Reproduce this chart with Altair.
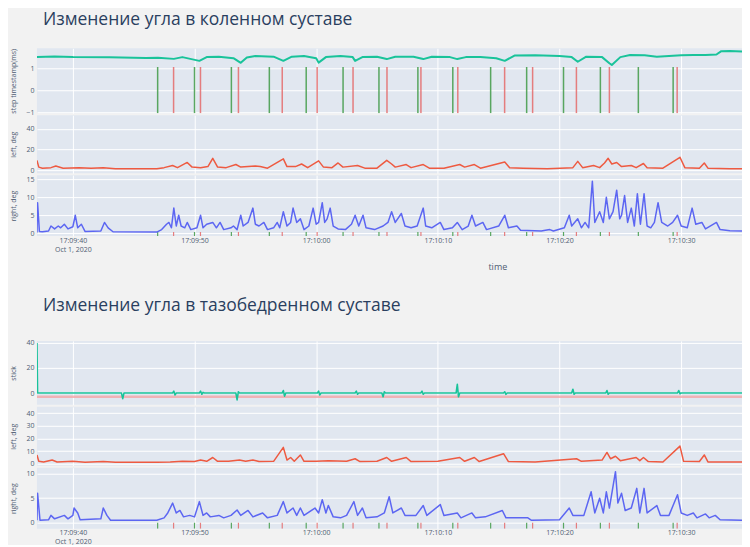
import altair as alt
import pandas as pd

# ---------------- data (time = seconds after 17:09:00, Oct 1, 2020) ----------------
X_MIN, X_MAX = 37.05, 95.0
X_TICKS = [40, 50, 60, 70, 80, 90]
X_LABELS = ["17:09:40", "17:09:50", "17:10:00", "17:10:10", "17:10:20", "17:10:30"]
DATE_LABEL = "Oct 1, 2020"

TITLE_KNEE = "Изменение угла в коленном суставе"
TITLE_HIP = "Изменение угла в тазобедренном суставе"

# step events (green = toe-off, red = heel-strike)
EVENT_GREEN = [46.97, 50.0, 53.03, 56.15, 59.18, 62.21, 65.16, 68.36, 71.23, 74.34,
               77.3, 80.33, 83.36, 86.48, 89.34]
EVENT_RED = [48.28, 50.49, 53.61, 57.21, 60.08, 63.03, 65.82, 68.61, 71.64, 75.49,
             77.79, 81.39, 84.1, 89.67]

# knee: timeline panel (teal)
KNEE_TIMELINE = [
    (37.05, 1.50), (38.5, 1.53), (40, 1.50), (43, 1.49), (46, 1.46), (47, 1.47),
    (48.3, 1.42), (49, 1.50), (50.4, 1.33), (51, 1.50), (52, 1.52), (53.2, 1.45),
    (53.8, 1.24), (54.3, 1.48), (55, 1.55), (56.5, 1.52), (57.3, 1.33), (58, 1.52),
    (59, 1.55), (60, 1.45), (60.2, 1.25), (60.8, 1.50), (62, 1.55), (63, 1.50),
    (63.2, 1.33), (63.8, 1.50), (65, 1.52), (65.8, 1.41), (66.5, 1.52), (68, 1.52),
    (68.8, 1.41), (69.5, 1.52), (71, 1.50), (71.6, 1.41), (72.3, 1.50), (73.5, 1.50),
    (74.8, 1.45), (75.5, 1.33), (76.3, 1.57), (78, 1.58), (80, 1.55), (81, 1.50),
    (81.5, 1.29), (82.2, 1.52), (83.5, 1.50), (84.1, 1.22), (84.3, 1.14), (85, 1.50),
    (85.8, 1.60), (87, 1.58), (88, 1.52), (89, 1.55), (90, 1.58), (91, 1.60),
    (92, 1.60), (92.9, 1.62), (93.3, 1.77), (94, 1.78), (95.0, 1.76),
]

# knee: left, deg (red)
KNEE_LEFT = [
    (37.05, 9.5), (37.2, 3), (37.5, 2), (38.2, 2.5), (38.6, 4), (39.2, 2), (40.5, 2.5),
    (41.5, 1.8), (42.5, 2.5), (43.5, 1.5), (46.9, 1.5), (47.5, 2.5), (48.2, 4.5),
    (48.6, 2.5), (49.4, 7.5), (49.8, 3), (50.5, 2.5), (51.1, 3.5), (51.5, 11.5),
    (51.9, 3), (52.6, 2.5), (53.4, 5.5), (53.8, 3), (55.0, 4), (55.4, 3.5), (56.0, 2),
    (57.3, 11), (57.6, 3.5), (58.3, 3.5), (58.8, 6), (59.3, 2.5), (60.2, 9), (60.6, 3),
    (61.3, 2.5), (61.8, 7), (62.2, 3), (63.4, 4.5), (64.0, 2), (65, 2), (65.8, 9.5),
    (66.2, 6), (66.5, 3), (67.4, 5.5), (67.8, 2.5), (68.8, 5.5), (69.3, 2), (70.5, 2),
    (71.8, 5.5), (72.2, 3), (73.0, 5.5), (73.5, 2), (75.5, 8), (75.9, 2.5), (77, 2),
    (79, 1.5), (81.1, 2.5), (81.5, 8.5), (81.9, 2.5), (82.8, 4.5), (83.3, 2.5),
    (83.7, 7), (84.0, 11.5), (84.3, 6), (84.7, 7.5), (85.1, 3.5), (85.9, 4.5),
    (86.3, 2.5), (86.9, 6.5), (87.2, 2.5), (88.5, 2), (89.9, 12.5), (90.3, 2.5),
    (91.5, 2), (91.9, 7), (92.2, 2), (94, 1.5), (95.0, 1.5),
]

# knee: right, deg (blue)
KNEE_RIGHT = [
    (37.05, 0.2), (37.1, 8.5), (37.25, 0.5), (37.5, 0.4), (38.0, 0.6), (38.2, 2),
    (38.5, 1.2), (38.8, 2), (39.0, 1.5), (39.3, 2.5), (39.6, 1.2), (40.0, 1.8),
    (40.2, 5), (40.4, 1.5), (40.7, 2.5), (41.0, 0.5), (42.3, 0.6), (42.6, 3),
    (42.9, 1.5), (43.3, 0.4), (46.9, 0.3), (47.3, 1), (47.7, 2.5), (47.9, 3),
    (48.1, 1.5), (48.3, 7), (48.5, 2), (48.7, 5), (48.9, 2), (49.2, 1.5), (49.4, 3),
    (49.7, 1.0), (50.2, 1.5), (50.5, 5), (50.7, 1.5), (51.0, 2.5), (51.5, 3),
    (51.8, 1.5), (52.1, 3), (52.4, 1.0), (53.0, 1.5), (53.2, 2), (53.5, 1.0),
    (53.8, 5), (54.0, 2), (54.4, 3), (54.8, 7), (55.0, 2.5), (55.3, 2), (55.7, 3),
    (56.0, 1.0), (56.5, 1.5), (56.8, 3), (57.0, 1.5), (57.3, 6), (57.6, 2),
    (57.9, 3), (58.1, 7), (58.4, 3), (58.7, 4), (59.0, 1.0), (59.4, 2), (59.75, 7),
    (60.0, 2.5), (60.2, 3), (60.5, 8.5), (60.7, 3), (60.9, 4), (61.15, 7), (61.4, 2),
    (61.8, 1.2), (62.4, 1.0), (62.9, 2.5), (63.2, 5), (63.5, 2), (63.85, 5),
    (64.1, 1.5), (64.8, 1.0), (65.5, 2), (65.9, 3), (66.2, 6), (66.5, 3), (67.0, 5.5),
    (67.3, 2), (67.8, 1.5), (68.3, 2), (68.8, 7), (69.0, 2), (69.5, 1.5), (70.2, 3),
    (70.5, 1.0), (71.2, 1.5), (71.6, 3), (72.0, 1.0), (72.5, 2), (72.8, 5), (73.1, 2),
    (73.7, 3), (74.0, 1.0), (75.0, 2), (75.5, 5), (75.8, 1.5), (76.5, 2), (76.8, 0.8),
    (78.5, 0.6), (79.2, 1), (79.5, 0.6), (80.4, 1.5), (80.8, 5), (81.0, 2), (81.5, 4),
    (81.8, 1.5), (82.1, 3), (82.4, 1.5), (82.7, 14.5), (82.9, 3), (83.3, 6),
    (83.6, 3), (83.85, 10), (84.1, 4), (84.4, 6), (84.7, 12), (84.95, 4), (85.1, 5),
    (85.35, 10.5), (85.6, 3), (85.9, 7), (86.15, 2), (86.4, 11), (86.65, 2.5),
    (86.95, 11), (87.2, 2), (87.5, 1.5), (87.8, 3), (88.1, 8.5), (88.4, 3), (88.9, 2),
    (89.3, 3), (89.7, 5), (90.0, 2), (90.5, 1.5), (90.9, 7), (91.2, 2.5), (91.7, 3),
    (92.0, 1.2), (92.9, 3), (93.2, 1), (94, 0.7), (95.0, 0.6),
]

# hip: stick (teal)
HIP_STICK = [
    (37.05, 40), (37.1, 0), (44.0, 0), (44.1, -4.5), (44.2, 0), (48.2, 0), (48.3, 1.5),
    (48.4, -1.5), (48.5, 0), (50.4, 0), (50.5, 1.5), (50.6, -1), (50.7, 0.5),
    (50.8, 0), (53.4, 0), (53.5, -5.5), (53.6, 1), (53.7, 0), (57.2, 0), (57.3, 2),
    (57.4, -2.5), (57.5, 0), (60.1, 0), (60.2, 1.5), (60.3, -1.5), (60.4, 0),
    (63.2, 0), (63.3, 1.5), (63.4, -1), (63.5, 0), (65.4, 0), (65.5, -3), (65.6, 1),
    (65.7, 0), (68.6, 0), (68.7, 1.5), (68.8, -1), (68.9, 0), (71.5, 0), (71.6, 7),
    (71.7, -3), (71.8, 0), (75.4, 0), (75.5, 1), (75.6, -1), (75.7, 0), (81.0, 0),
    (81.1, 3), (81.2, -1), (81.3, 0), (83.8, 0), (83.9, 2), (84.0, -1), (84.1, 0),
    (89.7, 0), (89.8, 2), (89.9, -0.5), (90.0, 0), (95.0, 0),
]
HIP_STICK_BAND = [(37.05, -3), (95.0, -3)]

# hip: left, deg (red)
HIP_LEFT = [
    (37.05, 7), (37.2, 2), (37.6, 1.5), (38.3, 3), (38.7, 1.5), (40, 2), (41, 1.2),
    (42.5, 1.8), (43.5, 1.2), (46.9, 1.2), (48, 1.5), (49.0, 2), (50.0, 1.8),
    (50.5, 3), (51.0, 2), (51.5, 5), (51.9, 2), (52.8, 2), (53.7, 3), (54.2, 2),
    (54.8, 3), (55.3, 1.8), (56.5, 2), (57.3, 13), (57.6, 3), (57.9, 5), (58.2, 2),
    (58.7, 7), (59.0, 2), (60, 2), (61, 2.5), (62.5, 2), (63.2, 4), (63.6, 1.8),
    (65, 2), (65.8, 5), (66.2, 2), (67.4, 5), (67.8, 1.8), (70, 2), (71.8, 5),
    (72.2, 2), (73.0, 5), (73.4, 1.8), (75.4, 8), (75.8, 1.8), (78, 1.5), (81.4, 4),
    (81.8, 2), (83.5, 3), (83.9, 9), (84.2, 4), (84.6, 6), (85.0, 2.5), (86.3, 5),
    (86.6, 2.5), (86.9, 5), (87.3, 1.8), (88.5, 1.5), (89.9, 14), (90.2, 2),
    (91.5, 1.8), (91.9, 7), (92.2, 1.5), (95.0, 1.5),
]

# hip: right, deg (blue)
HIP_RIGHT = [
    (37.05, 0.5), (37.1, 6), (37.3, 0.5), (38.0, 0.6), (38.2, 1.5), (38.5, 0.8),
    (39.3, 1.5), (39.6, 0.8), (40.0, 1.5), (40.1, 3), (40.4, 2), (40.6, 0.6),
    (42.3, 0.8), (42.5, 3), (42.8, 1.5), (43.1, 0.5), (46.9, 0.5), (47.5, 1),
    (47.8, 2), (48.2, 4), (48.5, 2), (48.8, 2.5), (49.1, 1.2), (49.6, 1.5),
    (50.0, 1.2), (50.4, 4.3), (50.7, 1.5), (51.0, 2), (51.3, 1.2), (52.0, 1.5),
    (52.4, 1), (53.0, 1.5), (53.5, 2.6), (53.8, 1.5), (54.4, 2.5), (54.8, 1.2),
    (55.6, 2), (56.0, 1), (56.8, 1.5), (57.3, 4.3), (57.6, 2), (58.1, 3), (58.4, 1.5),
    (58.7, 3), (59.0, 1.5), (59.9, 3), (60.2, 2), (60.5, 4.7), (60.8, 2), (61.0, 3.5),
    (61.4, 1.2), (62.0, 1), (62.5, 1.5), (63.1, 4.3), (63.4, 1.5), (63.8, 3),
    (64.1, 1), (65.0, 1.2), (65.6, 2), (66.0, 5.3), (66.3, 2), (67.0, 3), (67.3, 1.5),
    (68.2, 1.5), (68.8, 3.5), (69.1, 1.5), (70.2, 3.7), (70.5, 1.5), (71.6, 2),
    (71.9, 1), (72.8, 2), (73.1, 1), (73.9, 1.2), (75.3, 2.5), (75.6, 1), (77.4, 1),
    (77.7, 0.5), (80, 0.6), (80.8, 3), (81.1, 1.5), (82.0, 1.5), (82.6, 6.3),
    (82.9, 2), (83.3, 5), (83.6, 2), (83.85, 6.3), (84.1, 3), (84.6, 10.4), (84.8, 4),
    (85.1, 6), (85.4, 2.5), (85.9, 3), (86.35, 7), (86.6, 2), (86.95, 7), (87.2, 2),
    (88.0, 3.5), (88.3, 1.5), (89.0, 1.5), (89.7, 5.7), (90.0, 2), (90.5, 1.5),
    (91.0, 2), (91.3, 1), (92.0, 1.8), (92.3, 1), (92.8, 1.5), (93.2, 0.6), (95.0, 0.5),
]

# ---------------- styling ----------------
TEAL, RED, BLUE = "#19c39a", "#ee5a41", "#5c66f2"
EV_GREEN, EV_RED = "#3f9a46", "#e46a6a"
TEXT = "#4f5d73"
FONT = "Open Sans"
W = 706


def df(pairs):
    return pd.DataFrame(pairs, columns=["t", "v"])


def label_expr():
    expr = "''"
    for tv, lab in reversed(list(zip(X_TICKS, X_LABELS))):
        txt = f"['{lab}', '{DATE_LABEL}']" if tv == X_TICKS[0] else f"'{lab}'"
        expr = f"datum.value == {tv} ? {txt} : ({expr})"
    return expr


X_SCALE = alt.Scale(domain=[X_MIN, X_MAX], nice=False, zero=False)


def x_enc(bottom, title=None, title_x=None, title_y=None, line_h=9):
    common = dict(values=X_TICKS, grid=True, gridColor="white", gridWidth=1,
                  domain=False, ticks=False)
    if not bottom:
        return alt.X("t:Q", scale=X_SCALE, axis=alt.Axis(**common, labels=False), title=None)
    kw = dict(labelExpr=label_expr(), labelFontSize=7, labelColor=TEXT,
              labelPadding=0, labelLineHeight=line_h, labelFont=FONT)
    if title:
        kw.update(title=title, titleFontSize=9, titleFontWeight="normal",
                  titleColor=TEXT, titleX=title_x, titleY=title_y,
                  titleBaseline="middle", titleFont=FONT)
        return alt.X("t:Q", scale=X_SCALE, axis=alt.Axis(**common, **kw))
    return alt.X("t:Q", scale=X_SCALE, axis=alt.Axis(**common, **kw), title=None)


def y_scale(dom):
    return alt.Scale(domain=dom, nice=False, zero=False)


def y_axis(ticks, title):
    return alt.Axis(values=ticks, title=title, grid=True, gridColor="white", gridWidth=1,
                    domain=False, ticks=False, labelFontSize=7, labelColor=TEXT,
                    labelPadding=3, minExtent=18, maxExtent=18, titleFontSize=7,
                    titleFontWeight="normal", titleColor=TEXT, titlePadding=2,
                    labelFont=FONT, titleFont=FONT)


def line(data, color, dom, ticks, title, xe, width=1.5, opacity=1.0):
    return alt.Chart(data).mark_line(color=color, strokeWidth=width, clip=True,
                                     opacity=opacity, strokeJoin="round").encode(
        x=xe, y=alt.Y("v:Q", scale=y_scale(dom), axis=y_axis(ticks, title)))


def events(y_top, y_bot, dom, ticks, title, xe, width=1.5):
    rows = [(t, "g", y_top, y_bot) for t in EVENT_GREEN] + \
           [(t, "r", y_top, y_bot) for t in EVENT_RED]
    d = pd.DataFrame(rows, columns=["t", "kind", "y", "y2"])
    return alt.Chart(d).mark_rule(strokeWidth=width, clip=True, opacity=0.85).encode(
        x=xe,
        y=alt.Y("y:Q", scale=y_scale(dom), axis=y_axis(ticks, title)),
        y2="y2:Q",
        color=alt.Color("kind:N", scale=alt.Scale(domain=["g", "r"], range=[EV_GREEN, EV_RED]),
                        legend=None),
    )


def title_params(text, offset):
    return alt.TitleParams(text, anchor="start", frame="group", fontSize=17.5,
                           fontWeight="normal", color="#2a3f5f", font=FONT,
                           offset=offset, dx=6, limit=700)


# ---------------- knee figure ----------------
k1_dom, k1_ticks, k1_title = [-1.05, 1.9], [-1, 0, 1], "step timestamp(ms)"
xe_top = x_enc(False)
k1 = alt.layer(
    events(1.05, -1.05, k1_dom, k1_ticks, k1_title, xe_top),
    line(df(KNEE_TIMELINE), TEAL, k1_dom, k1_ticks, k1_title, xe_top, width=2),
).properties(width=W, height=65)

k2_dom, k2_ticks = [-2.8, 53], [0, 20, 40]
k2 = line(df(KNEE_LEFT), RED, k2_dom, k2_ticks, "left, deg", xe_top).properties(width=W, height=58)

k3_dom, k3_ticks = [-0.8, 16.2], [0, 5, 10, 15]
xe_k3 = x_enc(True, "time", 461, 30, line_h=9.5)
k3 = alt.layer(
    events(0.3, -0.8, k3_dom, k3_ticks, "right, deg", xe_k3, width=1.2),
    line(df(KNEE_RIGHT), BLUE, k3_dom, k3_ticks, "right, deg", xe_k3),
).properties(width=W, height=61)

knee = alt.vconcat(k1, k2, k3, spacing=2, bounds="flush").properties(
    title=title_params(TITLE_KNEE, 19.5))

# ---------------- hip figure ----------------
h1_dom, h1_ticks = [-9.4, 41.6], [0, 20, 40]
h1 = alt.layer(
    line(df(HIP_STICK_BAND), "#f2a6a6", h1_dom, h1_ticks, "stick", xe_top, width=2.5, opacity=0.8),
    line(df(HIP_STICK), TEAL, h1_dom, h1_ticks, "stick", xe_top, width=1.6),
).properties(width=W, height=64)

h2_dom, h2_ticks = [-1.5, 45], [0, 10, 20, 30, 40]
h2 = line(df(HIP_LEFT), RED, h2_dom, h2_ticks, "left, deg", xe_top).properties(width=W, height=59)

h3_dom, h3_ticks = [-1.2, 11.2], [0, 5, 10]
xe_h3 = x_enc(True, line_h=8.5)
h3 = alt.layer(
    events(0.0, -1.2, h3_dom, h3_ticks, "right, deg", xe_h3, width=1.2),
    line(df(HIP_RIGHT), BLUE, h3_dom, h3_ticks, "right, deg", xe_h3),
).properties(width=W, height=61)

hip = alt.vconcat(h1, h2, h3, spacing=2, bounds="flush").properties(
    title=title_params(TITLE_HIP, 24.5))

chart = alt.vconcat(knee, hip, spacing=26).properties(
    background="#f2f2f2",
    padding={"left": 1, "top": 3, "right": 0, "bottom": 0},
).configure_view(fill="#e1e7f0", stroke=None)

chart.save("out.html", embed_options={"renderer": "svg", "actions": False})
